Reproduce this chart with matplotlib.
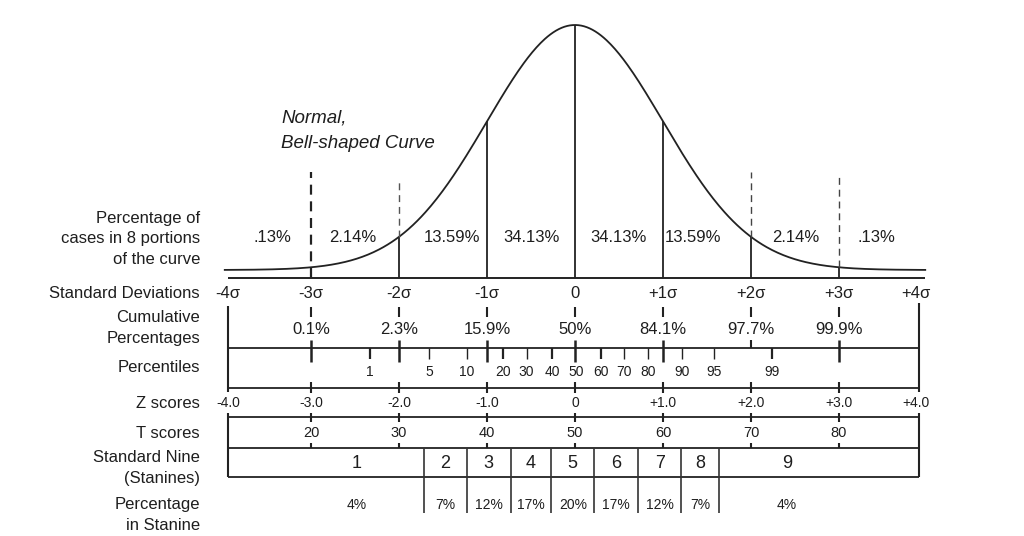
import numpy as np
import matplotlib.pyplot as plt

plt.rcParams['font.family'] = ['Liberation Sans', 'DejaVu Sans']

# --- datos ---
sd_values = [-4, -3, -2, -1, 0, 1, 2, 3, 4]
sd_labels = ['-4σ', '-3σ', '-2σ', '-1σ', '0', '+1σ', '+2σ', '+3σ', '+4σ']
portion_labels = ['.13%', '2.14%', '13.59%', '34.13%', '34.13%', '13.59%', '2.14%', '.13%']
cum_labels = ['0.1%', '2.3%', '15.9%', '50%', '84.1%', '97.7%', '99.9%']
pct_values = [1, 5, 10, 20, 30, 40, 50, 60, 70, 80, 90, 95, 99]
pct_z = [-2.33, -1.66, -1.23, -0.82, -0.55, -0.26, 0.01, 0.30, 0.56, 0.83, 1.22, 1.58, 2.24]
z_labels = ['-4.0', '-3.0', '-2.0', '-1.0', '0', '+1.0', '+2.0', '+3.0', '+4.0']
t_scores = [20, 30, 40, 50, 60, 70, 80]
stanines = [1, 2, 3, 4, 5, 6, 7, 8, 9]
stanine_bounds = [-1.72, -1.23, -0.73, -0.27, 0.22, 0.72, 1.21, 1.64]
stanine_pct = ['4%', '7%', '12%', '17%', '20%', '17%', '12%', '7%', '4%']

# --- layout (x en unidades sigma, y en pixeles desde arriba) ---
PX = 88.0
X0 = 575.0
LEFT, RIGHT = -3.94, 3.91
LAB_X = (200 - X0) / PX
INK = '#222222'
TXT = '#1e1e1e'

def curve_y(s):
    return 278 - 8 - 245 * np.exp(-np.asarray(s) ** 2 / 2)

fig = plt.figure(figsize=(10.24, 5.36), dpi=100)
ax = fig.add_axes([0, 0, 1, 1])
ax.set_xlim(-X0 / PX, (1024 - X0) / PX)
ax.set_ylim(536, 0)
ax.axis('off')

def vline(x, y0, y1, lw=1.3, color=INK, **kw):
    ax.plot([x, x], [y0, y1], color=color, lw=lw, solid_capstyle='butt', **kw)

def hline(y, x0=LEFT, x1=RIGHT, lw=1.3):
    ax.plot([x0, x1], [y, y], color=INK, lw=lw, solid_capstyle='butt')

def txt(x, y, s, size=12, ha='center', **kw):
    ax.text(x, y, s, fontsize=size, ha=ha, va='center', color=TXT, **kw)

# =========================================================
# Curva normal
# =========================================================
xs = np.linspace(-3.98, 3.98, 500)
ax.plot(xs, curve_y(xs), color=INK, lw=1.3)
hline(278, -3.94, 3.98, lw=1.4)

for s in [-1, 0, 1]:
    vline(s, 278, float(curve_y(s)))
for s in [-2, 2, 3]:
    vline(s, 278, float(curve_y(s)))

dash_top = {-3: 172, -2: 181, 2: 172, 3: 175}
vline(-3, 278, dash_top[-3], lw=1.6, linestyle=(0, (4.5, 3)))
vline(-2, float(curve_y(-2)), dash_top[-2], lw=1.0, color='#555555', linestyle=(0, (5, 3.5)))
vline(2, float(curve_y(2)), dash_top[2], lw=1.0, color='#444444', linestyle=(0, (5, 3.5)))
vline(3, float(curve_y(3)), dash_top[3], lw=1.0, color='#444444', linestyle=(0, (5, 3.5)))

portion_nudge = [0.06, -0.03, 0.1, 0.01, -0.01, -0.16, 0.01, -0.08]
for i, lab in enumerate(portion_labels):
    txt(-3.5 + i + portion_nudge[i], 238, lab)

txt(LAB_X, 218, 'Percentage of', ha='right')
txt(LAB_X, 239, 'cases in 8 portions', ha='right')
txt(LAB_X, 260, 'of the curve', ha='right')
txt((281 - X0) / PX, 118, 'Normal,', size=13.5, ha='left', style='italic')
txt((281 - X0) / PX, 143, 'Bell-shaped Curve', size=13.5, ha='left', style='italic')

# =========================================================
# Desviaciones estandar y porcentajes acumulados
# =========================================================
txt(LAB_X, 293, 'Standard Deviations', ha='right')
for s, lab in zip(sd_values, sd_labels):
    xpos = min(max(s, LEFT), RIGHT - 0.04)
    txt(xpos, 293, lab)

txt(LAB_X, 317, 'Cumulative', ha='right')
txt(LAB_X, 339, 'Percentages', ha='right')
for s, lab in zip(sd_values[1:-1], cum_labels):
    vline(s, 307, 317, lw=1.5)
    txt(s, 330, lab)

# =========================================================
# Percentiles
# =========================================================
txt(LAB_X, 368, 'Percentiles', ha='right')
vline(LEFT, 306, 392, lw=1.5)
vline(RIGHT, 303, 392, lw=1.5)
hline(348)
hline(388)
for s in sd_values[1:-1]:
    if s == 2:
        vline(s, 340, 348, lw=1.5)
    else:
        vline(s, 340, 362, lw=1.8)
    vline(s, 382, 393, lw=1.5)

thick = {1, 20, 40, 60, 99}
for p, z in zip(pct_values, pct_z):
    if p != 50:
        vline(z, 348, 359, lw=1.6 if p in thick else 1.0)
    txt(z, 372, str(p), size=10)

# =========================================================
# Z scores
# =========================================================
txt(LAB_X, 403, 'Z scores', ha='right')
for s, lab in zip(sd_values, z_labels):
    xpos = min(max(s, LEFT), RIGHT - 0.04)
    txt(xpos, 403, lab, size=10)

# =========================================================
# T scores
# =========================================================
txt(LAB_X, 433, 'T scores', ha='right')
hline(417)
hline(448)
vline(LEFT, 413, 477, lw=1.5)
vline(RIGHT, 413, 477, lw=1.5)
for s, t in zip(sd_values[1:-1], t_scores):
    vline(s, 413, 422, lw=1.5)
    vline(s, 443, 448, lw=1.5)
    txt(s, 433, str(t), size=10.5)

# =========================================================
# Estaninos
# =========================================================
txt(LAB_X, 458, 'Standard Nine', ha='right')
txt(LAB_X, 479, '(Stanines)', ha='right')
txt(LAB_X, 504, 'Percentage', ha='right')
txt(LAB_X, 525, 'in Stanine', ha='right')
hline(477)
for b in stanine_bounds:
    vline(b, 448, 513, lw=1.2, color='#333333')

edges = [-2.48] + [(a + b) / 2 for a, b in zip(stanine_bounds[:-1], stanine_bounds[1:])] + [2.41]
for c, n, pc in zip(edges, stanines, stanine_pct):
    txt(c, 463, str(n), size=13)
    txt(c, 505, pc, size=10)

fig.savefig('out.png', dpi=100)
